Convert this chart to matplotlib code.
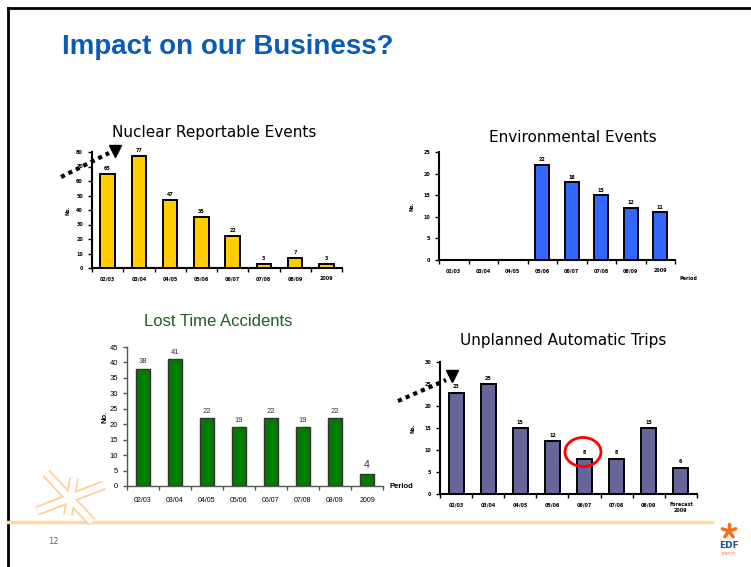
import matplotlib
matplotlib.use("Agg")
import matplotlib.pyplot as plt
from matplotlib.patches import Ellipse
import numpy as np

W, H = 751, 567

# data
periods = ["02/03", "03/04", "04/05", "05/06", "06/07", "07/08", "08/09", "2009"]
uat_periods = ["02/03", "03/04", "04/05", "05/06", "06/07", "07/08", "08/09", "Forecast\n2009"]

nre_values = [65, 77, 47, 35, 22, 3, 7, 3]
env_values = [0, 0, 0, 22, 18, 15, 12, 11]
lta_values = [38, 41, 22, 19, 22, 19, 22, 4]
uat_values = [23, 25, 15, 12, 8, 8, 15, 6]

fig = plt.figure(figsize=(W / 100, H / 100), dpi=100)
fig.patch.set_facecolor("white")


def px_axes(x0, y0, x1, y1):
    # axes placed by slide pixel coordinates
    return fig.add_axes([x0 / W, 1 - y1 / H, (x1 - x0) / W, (y1 - y0) / H])


def bar_chart(ax, values, labels, ymax, ystep, color, edge="black", lw=1.4,
              fs=3.5, spine_color="black", spine_lw=1.5, label_color="black", width=0.47):
    x = np.arange(len(values))
    ax.bar(x, values, width=width, color=color, edgecolor=edge, linewidth=lw, zorder=3)
    for xi, v in zip(x, values):
        if v > 0:
            ax.text(xi, v + ymax * 0.025, str(v), ha="center", va="bottom",
                    fontsize=fs, color=label_color, fontweight="bold" if fs < 5 else "normal")
    ax.set_xlim(-0.5, len(values) - 0.5)
    ax.set_ylim(0, ymax)
    ax.set_yticks(np.arange(0, ymax + 0.1, ystep))
    ax.set_xticks(x)
    ax.set_xticklabels(labels)
    ax.set_xticks(np.arange(-0.5, len(values), 1), minor=True)
    ax.tick_params(axis="x", which="major", length=0, labelsize=fs, pad=6)
    ax.tick_params(axis="x", which="minor", length=3, width=1, color=spine_color)
    ax.tick_params(axis="y", length=3, width=1, labelsize=fs, color=spine_color)
    for side in ["top", "right"]:
        ax.spines[side].set_visible(False)
    for side in ["left", "bottom"]:
        ax.spines[side].set_color(spine_color)
        ax.spines[side].set_linewidth(spine_lw)
    ax.patch.set_alpha(0)


# Nuclear Reportable Events
ax1 = px_axes(92, 152, 342, 268)
bar_chart(ax1, nre_values, periods, 80, 10, "#ffcc00")
for t in ax1.get_xticklabels() + ax1.get_yticklabels():
    t.set_fontweight("bold")
ax1.set_ylabel("No.", fontsize=3.5, fontweight="bold", labelpad=4)

# Environmental Events
ax2 = px_axes(439, 152, 675, 260)
bar_chart(ax2, env_values, periods, 25, 5, "#3366ff")
for t in ax2.get_xticklabels() + ax2.get_yticklabels():
    t.set_fontweight("bold")
ax2.set_ylabel("No.", fontsize=3.5, fontweight="bold", labelpad=6)

# Lost Time Accidents
ax3 = px_axes(127, 347, 383, 486)
bar_chart(ax3, lta_values, periods, 45, 5, "#007a00", edge="#333333", lw=1.0,
          fs=5.5, spine_color="#555555", spine_lw=1.0, label_color="#333333", width=0.42)
ax3.texts[-1].set_fontsize(7.5)
for t in ax3.texts:
    t.set_family("Liberation Sans")
ax3.tick_params(axis="x", which="major", pad=8, labelsize=5)
ax3.tick_params(axis="y", labelsize=5.5)
for t in ax3.get_xticklabels() + ax3.get_yticklabels():
    t.set_family("Liberation Sans")
ax3.set_ylabel("No.", fontsize=5.5, fontweight="bold", labelpad=1, family="Liberation Sans")

# Unplanned Automatic Trips
ax4 = px_axes(440, 362, 697, 494)
bar_chart(ax4, uat_values, uat_periods, 30, 5, "#666699")
for t in ax4.get_xticklabels() + ax4.get_yticklabels():
    t.set_fontweight("bold")
ax4.set_ylabel("No.", fontsize=3.5, fontweight="bold", labelpad=6)

# overlay for slide furniture
ov = fig.add_axes([0, 0, 1, 1], zorder=10)
ov.set_xlim(0, W)
ov.set_ylim(H, 0)
ov.axis("off")
ov.patch.set_alpha(0)

# slide border
ov.plot([8, W], [8, 8], color="black", lw=2)
ov.plot([8, 8], [8, H], color="black", lw=2)

ov.text(62, 47, "Impact on our Business?", fontsize=20, fontweight="bold",
        color="#0a5cb8", ha="left", va="center",
        family=["Liberation Sans Narrow", "Liberation Sans", "DejaVu Sans"])

ov.text(214, 133, "Nuclear Reportable Events", fontsize=11, ha="center", va="center",
        family="DejaVu Sans")
ov.text(573, 137, "Environmental Events", fontsize=11, ha="center", va="center",
        family="DejaVu Sans")
ov.text(218, 322, "Lost Time Accidents", fontsize=12, ha="center", va="center",
        color="#1e5e1e", family="Liberation Sans")
ov.text(563, 340, "Unplanned Automatic Trips", fontsize=11, ha="center", va="center",
        family="DejaVu Sans")

ov.text(389, 486, "Period", fontsize=5.5, fontweight="bold", ha="left", va="center",
        family="Liberation Sans")
ov.text(680, 279, "Period", fontsize=3.5, fontweight="bold", ha="left", va="center")

# dotted arrows
ov.plot([61, 109], [177, 153], color="black", lw=3, linestyle=(0, (1, 1)))
ov.plot([115], [151], marker="v", color="black", markersize=8)
ov.plot([398, 446], [401, 380], color="black", lw=3, linestyle=(0, (1, 1)))
ov.plot([452], [376], marker="v", color="black", markersize=8)

# red circle
ov.add_patch(Ellipse((583, 452), 36, 29, fill=False, edgecolor="red", lw=2))

# footer
ov.plot([8, 712], [522, 522], color="#ffd9a8", lw=2.5)
ov.text(53, 542, "12", fontsize=6, color="#666666", ha="center", va="center")
# outlined orange sketch logo
bands = [((46, 473), (92, 522)), ((37, 511), (104, 485)), ((74, 478), (68, 515))]
for (xa, ya), (xb, yb) in bands:
    ov.plot([xa, xb], [ya, yb], color="#fdcf99", lw=7, solid_capstyle="butt")
for (xa, ya), (xb, yb) in bands:
    ov.plot([xa, xb], [ya, yb], color="white", lw=4.5, solid_capstyle="butt")
# edf logo
for ang in [90, 162, 234, 306, 18]:
    a = np.deg2rad(ang)
    ov.plot([729 + 2 * np.cos(a), 729 + 7 * np.cos(a)],
            [531 - 2 * np.sin(a), 531 - 7 * np.sin(a)],
            color="#f26f21", lw=2.5, solid_capstyle="round")
ov.text(729, 546, "EDF", fontsize=6.5, fontweight="bold", color="#1f4e9c",
        ha="center", va="center")
ov.text(729, 554, "ENERGY", fontsize=2.5, color="#f26f21", ha="center", va="center")

fig.savefig("out.png", dpi=100)
